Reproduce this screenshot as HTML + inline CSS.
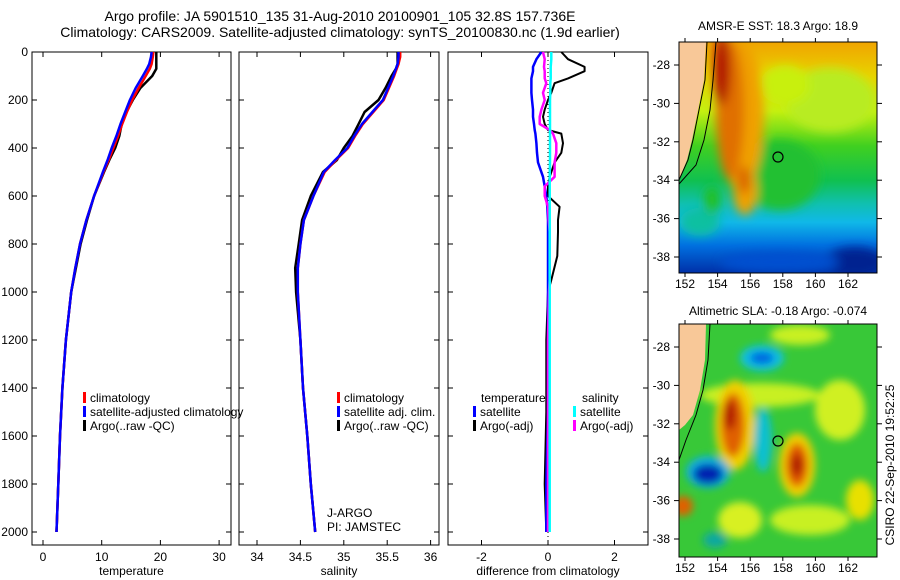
<!DOCTYPE html>
<html><head><meta charset="utf-8"><style>
html,body{margin:0;padding:0;background:#fff;}
svg{display:block;font-family:"Liberation Sans",sans-serif;}
text{fill:#000;}
</style></head><body>
<svg id="fig" width="900" height="580" viewBox="0 0 900 580" xmlns="http://www.w3.org/2000/svg">
<defs>
<filter id="blur6" x="-20%" y="-20%" width="140%" height="140%"><feGaussianBlur stdDeviation="5"/></filter>
<filter id="blur4" x="-20%" y="-20%" width="140%" height="140%"><feGaussianBlur stdDeviation="4"/></filter>
<linearGradient id="sstbase" x1="0" y1="0" x2="0" y2="1">
<stop offset="0" stop-color="#f0a400"/><stop offset="0.15" stop-color="#e8d400"/>
<stop offset="0.3" stop-color="#c4f010"/><stop offset="0.45" stop-color="#40d020"/>
<stop offset="0.6" stop-color="#10c050"/><stop offset="0.7" stop-color="#10c0b0"/>
<stop offset="0.78" stop-color="#10b8e8"/><stop offset="0.88" stop-color="#0070e0"/>
<stop offset="1" stop-color="#0030a8"/></linearGradient>
<clipPath id="clipm1"><rect x="679" y="42" width="198" height="231"/></clipPath>
<clipPath id="clipm2"><rect x="679" y="324" width="198" height="233"/></clipPath>
</defs>

<g font-size="14" text-anchor="middle">
<text x="340" y="21">Argo profile: JA 5901510_135 31-Aug-2010 20100901_105 32.8S 157.736E</text>
<text x="340" y="37">Climatology: CARS2009. Satellite-adjusted climatology: synTS_20100830.nc (1.9d earlier)</text>
</g>

<!-- map 1 -->
<g>
<g clip-path="url(#clipm1)">
<rect x="679" y="42" width="198" height="231" fill="url(#sstbase)"/>
<g filter="url(#blur6)">
<ellipse cx="830" cy="100" rx="45" ry="32" fill="#b8ec20"/>
<ellipse cx="785" cy="85" rx="25" ry="20" fill="#c8f010"/>
<ellipse cx="780" cy="175" rx="40" ry="35" fill="#20c030"/>
<ellipse cx="740" cy="115" rx="24" ry="75" fill="#f0a000"/>
<ellipse cx="730" cy="110" rx="14" ry="70" fill="#e07000"/>
<ellipse cx="722" cy="70" rx="8" ry="35" fill="#b01000"/>
<ellipse cx="745" cy="190" rx="12" ry="25" fill="#f0a000"/>
<ellipse cx="744" cy="180" rx="6" ry="14" fill="#d86000"/>
<ellipse cx="700" cy="222" rx="20" ry="14" fill="#10c0a0"/>
<ellipse cx="712" cy="200" rx="8" ry="14" fill="#20c020"/>
<ellipse cx="855" cy="262" rx="30" ry="15" fill="#002090"/>
<ellipse cx="780" cy="262" rx="60" ry="10" fill="#0050d0"/>
</g>
<polygon points="679,42 706,42 704,80 698,110 692,140 687,160 679,180" fill="#f8c898"/>
<polyline points="707,42 705,80 699,110 693,140 688,160 679,180" fill="none" stroke="#000" stroke-width="1"/>
<polyline points="716,42 713,80 710,110 704,140 696,165 679,184" fill="none" stroke="#000" stroke-width="1"/>
</g>
<rect x="679" y="42" width="198" height="231" fill="none" stroke="#000" stroke-width="1"/>
<circle cx="778" cy="157" r="5" fill="none" stroke="#000" stroke-width="1.2"/>
</g>
<text x="778" y="30" font-size="12" text-anchor="middle">AMSR-E SST: 18.3  Argo: 18.9</text>

<!-- map 2 -->
<g>
<g clip-path="url(#clipm2)">
<rect x="679" y="324" width="198" height="233" fill="#38c838"/>
<g filter="url(#blur4)">
<ellipse cx="760" cy="395" rx="60" ry="12" fill="#c8f020"/>
<ellipse cx="840" cy="410" rx="25" ry="30" fill="#d0f020"/>
<ellipse cx="810" cy="520" rx="40" ry="15" fill="#c8f020"/>
<ellipse cx="860" cy="500" rx="14" ry="20" fill="#e8e000"/>
<ellipse cx="740" cy="520" rx="22" ry="18" fill="#d8f020"/>
<ellipse cx="800" cy="335" rx="30" ry="10" fill="#c8f020"/>
<ellipse cx="735" cy="425" rx="20" ry="45" fill="#f0d000"/>
<ellipse cx="733" cy="425" rx="12" ry="32" fill="#e06000"/>
<ellipse cx="730" cy="415" rx="6" ry="15" fill="#b01800"/>
<ellipse cx="797" cy="465" rx="18" ry="32" fill="#f0d000"/>
<ellipse cx="797" cy="465" rx="11" ry="22" fill="#e05800"/>
<ellipse cx="797" cy="465" rx="5" ry="11" fill="#a81000"/>
<ellipse cx="762" cy="358" rx="22" ry="13" fill="#10c0e0"/>
<ellipse cx="762" cy="358" rx="12" ry="6" fill="#0060e0"/>
<ellipse cx="763" cy="440" rx="9" ry="32" fill="#10c0d0"/>
<ellipse cx="708" cy="472" rx="22" ry="16" fill="#10b0e0"/>
<ellipse cx="708" cy="474" rx="15" ry="10" fill="#0020b0"/>
<ellipse cx="683" cy="506" rx="10" ry="10" fill="#e06000"/>
<ellipse cx="715" cy="540" rx="12" ry="8" fill="#10a8a0"/>
</g>
<polygon points="679,324 706,324 705,360 700,390 693,415 685,425 679,430" fill="#f8c898"/>
<polyline points="710,324 708,360 703,390 696,415 686,440 679,460" fill="none" stroke="#000" stroke-width="1"/>
</g>
<rect x="679" y="324" width="198" height="233" fill="none" stroke="#000" stroke-width="1"/>
<circle cx="778" cy="441" r="5" fill="none" stroke="#000" stroke-width="1.2"/>
</g>
<text x="778" y="315" font-size="12" text-anchor="middle">Altimetric SLA: -0.18  Argo: -0.074</text>
<text transform="translate(894,465) rotate(-90)" font-size="12" text-anchor="middle">CSIRO 22-Sep-2010 19:52:25</text>

<g id="plots"></g>
</svg>
<script>
// depth levels (m)
var depths = [0,20,50,70,100,150,200,250,300,350,400,450,500,600,700,800,900,1000,1200,1400,1600,1800,2000];
var tClim  = [18.8,18.7,18.5,18.2,17.5,16.3,15.2,14.3,13.5,12.8,12.0,11.2,10.3,8.7,7.4,6.3,5.5,4.8,3.9,3.3,2.9,2.6,2.3];
var tSat   = [18.5,18.4,18.1,17.7,17.0,15.8,14.8,14.0,13.2,12.5,11.7,11.0,10.2,8.7,7.4,6.3,5.5,4.8,3.9,3.3,2.9,2.6,2.3];
var tArgo  = [19.3,19.3,19.3,19.3,18.6,16.6,15.3,14.2,13.4,13.0,12.3,11.3,10.4,8.7,7.5,6.4,5.6,4.8,3.9,3.3,2.9,2.6,2.3];
var sClim  = [35.65,35.65,35.63,35.61,35.58,35.52,35.46,35.34,35.22,35.13,35.05,34.91,34.78,34.65,34.54,34.5,34.47,34.47,34.5,34.53,34.58,34.62,34.67];
var sSat   = [35.63,35.63,35.62,35.6,35.57,35.51,35.45,35.33,35.21,35.12,35.04,34.9,34.77,34.65,34.54,34.5,34.47,34.47,34.5,34.53,34.58,34.62,34.67];
var sArgo  = [35.62,35.62,35.62,35.6,35.55,35.48,35.4,35.24,35.17,35.1,35.0,34.92,34.76,34.62,34.52,34.48,34.44,34.45,34.5,34.53,34.58,34.62,34.67];
// differences from climatology
var dDepths = [0,30,62,80,110,130,170,200,240,270,300,325,340,380,420,460,520,560,600,645,700,750,850,950,1000,1200,1500,1800,2000];
var dArgoT = [0.4,0.6,1.1,1.1,0.6,0.2,0.1,0.0,-0.1,-0.15,-0.1,0.0,0.4,0.45,0.4,0.2,0.05,0.0,0.0,0.35,0.3,0.3,0.28,0.1,0.0,-0.05,-0.05,-0.1,-0.05];
var dSatT  = [-0.2,-0.35,-0.45,-0.45,-0.5,-0.5,-0.5,-0.48,-0.45,-0.45,-0.42,-0.4,-0.38,-0.35,-0.33,-0.3,-0.15,-0.1,-0.05,-0.02,0,0,0,0,0,0,0,-0.05,-0.05];
var dArgoS = [-0.15,-0.1,-0.12,-0.1,-0.1,-0.05,-0.15,-0.1,-0.2,-0.25,-0.25,0.05,0.15,0.25,0.25,0.2,0.2,-0.1,-0.1,0.0,0.02,0.05,0.05,0.05,0.03,0,0,0,0];
var dSatS  = [0.1,0.1,0.08,0.08,0.08,0.07,0.07,0.06,0.06,0.06,0.06,0.06,0.06,0.06,0.06,0.06,0.05,0.05,0.05,0.05,0.05,0.05,0.05,0.05,0.05,0.05,0.05,0.05,0.05];
var depthTicks = [0,200,400,600,800,1000,1200,1400,1600,1800,2000];
var tTicks = [0,10,20,30];
var sTicks = [34,34.5,35,35.5,36];
var sTickLabels = ["34","34.5","35","35.5","36"];
var dTicks = [-2,0,2];
var latTicks = [-28,-30,-32,-34,-36,-38];
var lonTicks = [152,154,156,158,160,162];

var NS='http://www.w3.org/2000/svg';
var root=document.getElementById('plots');
function mk(tag,attrs,parent){var e=document.createElementNS(NS,tag);for(var k in attrs)e.setAttribute(k,attrs[k]);(parent||root).appendChild(e);return e;}
function yD(d){return 52+d*0.24;}
var TOP=52,BOT=545;
var panels=[
 {x0:32,x1:231,f:function(v){return 43+v*5.87;},ticks:tTicks,labels:tTicks.map(String),title:'temperature',name:'temperature'},
 {x0:239,x1:439,f:function(v){return 257+(v-34)*86.8;},ticks:sTicks,labels:sTickLabels,title:'salinity',name:'salinity'},
 {x0:448,x1:648,f:function(v){return 548+v*33.25;},ticks:dTicks,labels:dTicks.map(String),title:'difference from climatology',name:'difference'}
];
panels.forEach(function(p,i){
  var g=mk('g',{});
  
  
  var r=mk('rect',{x:p.x0,y:TOP,width:p.x1-p.x0,height:BOT-TOP,fill:'none',stroke:'#000','stroke-width':1},g);
  
  
  p.ticks.forEach(function(t,j){
    var x=p.f(t);
    mk('line',{x1:x,x2:x,y1:BOT,y2:BOT-5,stroke:'#000'},g);
    mk('line',{x1:x,x2:x,y1:TOP,y2:TOP+5,stroke:'#000'},g);
    var tx=mk('text',{x:x,y:BOT+16,'font-size':12,'text-anchor':'middle'},g);
    tx.textContent=p.labels[j];
    
    
  });
  depthTicks.forEach(function(d){
    var y=yD(d);
    mk('line',{x1:p.x0,x2:p.x0+5,y1:y,y2:y,stroke:'#000'},g);
    mk('line',{x1:p.x1,x2:p.x1-5,y1:y,y2:y,stroke:'#000'},g);
    if(i===0){var t=mk('text',{x:28,y:y+4,'font-size':12,'text-anchor':'end'},g);t.textContent=String(d);
      
      }
  });
  var xt=mk('text',{x:(p.x0+p.x1)/2,y:575,'font-size':12,'text-anchor':'middle'},g);
  xt.textContent=p.title;
  
  
});
function line(p,dep,vals,color,w,name){
  var pts=dep.map(function(d,k){return p.f(vals[k]).toFixed(1)+','+yD(d).toFixed(1);}).join(' ');
  var l=mk('polyline',{points:pts,fill:'none',stroke:color,'stroke-width':w,'stroke-linejoin':'round'});
  
  
}
line(panels[0],depths,tArgo,'#000',2.5,'temperature-argo-line');
line(panels[0],depths,tClim,'#f00',2.5,'temperature-climatology-line');
line(panels[0],depths,tSat,'#00f',2.5,'temperature-satellite-line');
line(panels[1],depths,sArgo,'#000',2.5,'salinity-argo-line');
line(panels[1],depths,sClim,'#f00',2.5,'salinity-climatology-line');
line(panels[1],depths,sSat,'#00f',2.5,'salinity-satellite-line');
var zl=mk('line',{x1:548,x2:548,y1:TOP,y2:BOT,stroke:'#000','stroke-dasharray':'1,3','stroke-width':1});


line(panels[2],dDepths,dArgoT,'#000',2,'diff-temperature-argo-line');
line(panels[2],dDepths,dSatT,'#00f',2.5,'diff-temperature-satellite-line');
line(panels[2],dDepths,dArgoS,'#f0f',2.5,'diff-salinity-argo-line');
line(panels[2],dDepths,dSatS,'#0ff',2.5,'diff-salinity-satellite-line');

function legend(x,y,color,label,name){
  var g=mk('g',{});
  
  
  mk('rect',{x:x,y:y-10,width:3,height:11,fill:color},g);
  var t=mk('text',{x:x+7,y:y,'font-size':12},g);t.textContent=label;
}
legend(83,402,'#f00','climatology','legend-climatology');
legend(83,416,'#00f','satellite-adjusted climatology','legend-satellite-adjusted');
legend(83,430,'#000','Argo(..raw -QC)','legend-argo');
legend(337,402,'#f00','climatology','legend-sal-climatology');
legend(337,416,'#00f','satellite adj. clim.','legend-sal-satellite');
legend(337,430,'#000','Argo(..raw -QC)','legend-sal-argo');
legend(473,416,'#00f','satellite','legend-diff-temp-satellite');
legend(473,430,'#000','Argo(-adj)','legend-diff-temp-argo');
legend(573,416,'#0ff','satellite','legend-diff-sal-satellite');
legend(573,430,'#f0f','Argo(-adj)','legend-diff-sal-argo');
function txt(x,y,s,name,anchor){var t=mk('text',{x:x,y:y,'font-size':12,'text-anchor':anchor||'start'});t.textContent=s;
  
  }
txt(481,402,'temperature','legend-temperature-heading');
txt(582,402,'salinity','legend-salinity-heading');
txt(327,517,'J-ARGO','program-label');
txt(327,531,'PI: JAMSTEC','pi-label');

// map axes
function latY(top,lat){return top+23+(-28-lat)*19.2;}
function lonX(lon){return 685+(lon-152)*16.3;}
[[42,273,false],[324,557,true]].forEach(function(m){
  latTicks.forEach(function(lat){
    var y=latY(m[0],lat);
    mk('line',{x1:679,x2:674,y1:y,y2:y,stroke:'#000'});
    mk('line',{x1:877,x2:882,y1:y,y2:y,stroke:'#000'});
    var t=mk('text',{x:670,y:y+4,'font-size':12,'text-anchor':'end'});t.textContent=String(lat);
    
    
  });
  lonTicks.forEach(function(lon){
    var x=lonX(lon);
    mk('line',{x1:x,x2:x,y1:m[1],y2:m[1]+4,stroke:'#000'});
    mk('line',{x1:x,x2:x,y1:m[0],y2:m[0]-4,stroke:'#000'});
    var t=mk('text',{x:x,y:m[1]+15,'font-size':12,'text-anchor':'middle'});t.textContent=String(lon);
    
    
  });
});
</script>
</body></html>
